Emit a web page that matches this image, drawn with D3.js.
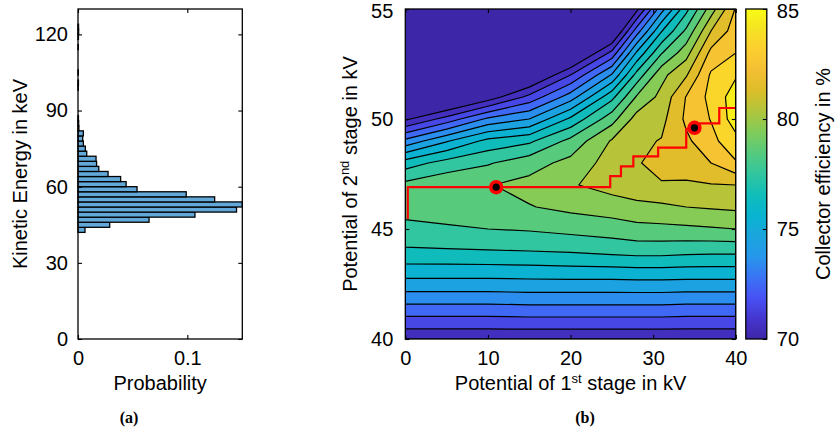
<!DOCTYPE html>
<html>
<head>
<meta charset="utf-8">
<script src="https://cdn.jsdelivr.net/npm/d3@7"></script>
<style>
  body { margin: 0; background: #fff; }
  svg { display: block; }
</style>
</head>
<body>
<svg id="fig" width="838" height="433"></svg>
<script>
// ---------------- (a) kinetic energy distribution ----------------
// lower edges of the 2 keV energy bins (keV) and their probabilities
const energyBins = [42, 44, 46, 48, 50, 52, 54, 56, 58, 60, 62, 64, 66, 68, 70, 72, 74, 76, 78, 80,
                    82, 84, 86, 98, 100, 104, 114, 118, 120, 122];
const probability = [0.0064, 0.029, 0.065, 0.107, 0.145, 0.1503, 0.125, 0.099, 0.054, 0.044,
                     0.039, 0.0275, 0.019, 0.017, 0.0165, 0.008, 0.0067, 0.0049, 0.0043, 0.0049,
                     0.0008, 0.0006, 0.0004, 0.0003, 0.0004, 0.0003, 0.0003, 0.0004, 0.0006, 0.0005];
const binWidth = 2;
const energyMax = 130;
const energyTicks = [0, 30, 60, 90, 120];
const probTicks = [0, 0.1];

// ---------------- (b) collector efficiency map ----------------
const stage1 = [0, 5, 10, 15, 20, 25, 28, 31, 34, 37, 40];            // kV, columns
const stage2 = [40, 41, 42, 43, 44, 45, 46, 47, 48, 49, 50, 51, 52, 53, 54, 55]; // kV, rows
// efficiency in %, one row per stage2 value, one entry per stage1 value
const efficiency = [
  [70.2, 70.2, 70.2, 70.2, 70.2, 70.2, 70.2, 70.2, 70.2, 70.2, 70.2],
  [71.95, 71.95, 71.95, 72.0, 72.0, 72.0, 72.0, 72.0, 71.95, 71.95, 71.95],
  [73.75, 73.75, 73.75, 73.8, 73.8, 73.8, 73.8, 73.8, 73.75, 73.75, 73.75],
  [75.4, 75.4, 75.4, 75.45, 75.5, 75.5, 75.55, 75.55, 75.5, 75.5, 75.5],
  [76.85, 76.9, 76.95, 77.0, 77.1, 77.3, 77.4, 77.4, 77.3, 77.25, 77.25],
  [77.7, 77.85, 78.0, 78.1, 78.3, 78.5, 78.7, 78.75, 78.8, 78.9, 79.0],
  [78.4, 78.55, 78.6, 78.95, 79.25, 79.5, 79.7, 79.8, 80.0, 80.1, 80.2],
  [78.3, 78.75, 78.95, 79.3, 79.9, 80.4, 80.7, 80.95, 80.9, 80.95, 81.0],
  [76.5, 77.4, 77.9, 78.6, 79.3, 80.45, 80.95, 81.2, 81.35, 82.0, 82.9],
  [73.3, 74.9, 76.3, 76.8, 78.3, 80.1, 80.8, 81.05, 81.8, 82.7, 83.7],
  [69.8, 71.4, 73.2, 74.0, 76.2, 78.6, 80.4, 80.7, 82.2, 83.05, 84.5],
  [66.5, 67.8, 69.4, 71.3, 73.5, 76.7, 79.1, 80.3, 82.05, 83.3, 84.5],
  [63.5, 64.6, 66.0, 68.4, 71.0, 74.1, 77.35, 79.7, 80.9, 83.15, 83.9],
  [60.5, 61.6, 63.0, 65.4, 68.0, 71.3, 75.15, 77.93, 79.6, 82.3, 83.0],
  [57.5, 58.6, 60.0, 62.4, 65.0, 68.3, 72.5, 75.93, 78.2, 81.0, 82.5],
  [54.5, 55.6, 57.0, 59.4, 62.0, 65.5, 69.7, 73.6, 76.7, 79.5, 82.1]
];
const levels = [70, 71, 72, 73, 74, 75, 76, 77, 78, 79, 80, 81, 82, 83, 84, 85];
const effRange = [70, 85];

// optimisation path and the two marked operating points
const pathStage1 = [0.3, 0.3, 24.8, 24.8, 26.1, 26.1, 27.6, 27.6, 30.6, 30.6, 34.0, 34.0, 35.6, 35.6, 38.0, 38.0, 40.0];
const pathStage2 = [45.45, 46.9, 46.9, 47.4, 47.4, 47.85, 47.85, 48.3, 48.3, 48.7, 48.7, 49.55, 49.55, 49.8, 49.8, 50.5, 50.5];
const optimaStage1 = [11.0, 35.0];
const optimaStage2 = [46.9, 49.6];

const stage1Ticks = [0, 10, 20, 30, 40];
const stage2Ticks = [40, 45, 50, 55];
const effTicks = [70, 75, 80, 85];

// parula-like colour ramp
const parulaStops = [0, 0.0625, 0.125, 0.1875, 0.25, 0.3125, 0.376, 0.4375, 0.5, 0.5625, 0.627, 0.69, 0.753, 0.815, 0.878, 0.94, 1];
const parulaColors = ["#3e26a8", "#4536cf", "#4852f4", "#3a74f5", "#2697eb", "#1aa5dd", "#08b4d0", "#11bdb9",
                      "#31c69f", "#55ca7e", "#80cc59", "#b0c53d", "#dcbd29", "#f4bf34", "#fccf30", "#f5e322", "#f9fb15"];

// ---------------- drawing ----------------
const FONT = '"Liberation Sans", Arial, Helvetica, sans-serif';
const FS = 20;
const svg = d3.select("#fig");

function tidyAxis(g) {
  g.select(".domain").remove();
  g.selectAll("line").attr("stroke", "#000").attr("stroke-width", 1.1);
  g.selectAll("text").attr("font-family", FONT).attr("font-size", FS).attr("fill", "#000");
}
// keep the label of the top-most tick inside the figure
function lowerTopLabel(top) {
  return g => g.selectAll(".tick").filter(d => d === top).select("text").attr("y", 2.5);
}

// ===== panel (a) =====
const A = { left: 78, right: 242.3, top: 9, bottom: 339 };
const xP = d3.scaleLinear().domain([0, d3.max(probability)]).range([A.left, A.right]);
const yE = d3.scaleLinear().domain([0, energyMax]).range([A.bottom, A.top]);

const gA = svg.append("g");
gA.selectAll("rect.bar")
  .data(energyBins.map((e, i) => ({ e, p: probability[i] })))
  .join("rect")
  .attr("class", "bar")
  .attr("x", xP(0))
  .attr("y", d => yE(d.e + binWidth))
  .attr("width", d => xP(d.p) - xP(0))
  .attr("height", d => yE(d.e) - yE(d.e + binWidth))
  .attr("fill", "#62a8d9")
  .attr("stroke", "#000")
  .attr("stroke-width", 1.3);

gA.append("g").attr("transform", `translate(0,${A.bottom})`)
  .call(d3.axisBottom(xP).tickValues(probTicks).tickSize(-4).tickPadding(12).tickFormat(d3.format("~g")))
  .call(tidyAxis);
gA.append("g").attr("transform", `translate(0,${A.top})`)
  .call(d3.axisTop(xP).tickValues(probTicks).tickSize(-4).tickFormat(""))
  .call(tidyAxis);
gA.append("g").attr("transform", `translate(${A.left},0)`)
  .call(d3.axisLeft(yE).tickValues(energyTicks).tickSize(-4).tickPadding(10))
  .call(tidyAxis);
gA.append("g").attr("transform", `translate(${A.right},0)`)
  .call(d3.axisRight(yE).tickValues(energyTicks).tickSize(-4).tickFormat(""))
  .call(tidyAxis);
gA.append("rect")
  .attr("x", A.left).attr("y", A.top)
  .attr("width", A.right - A.left).attr("height", A.bottom - A.top)
  .attr("fill", "none").attr("stroke", "#000").attr("stroke-width", 1.3);

gA.append("text")
  .attr("x", (A.left + A.right) / 2).attr("y", 390)
  .attr("text-anchor", "middle").attr("font-family", FONT).attr("font-size", FS)
  .text("Probability");
gA.append("text")
  .attr("transform", `translate(26.5,${(A.top + A.bottom) / 2}) rotate(-90)`)
  .attr("text-anchor", "middle").attr("font-family", FONT).attr("font-size", FS)
  .text("Kinetic Energy in keV");
gA.append("text")
  .attr("x", 129).attr("y", 423)
  .attr("text-anchor", "middle").attr("font-family", '"Liberation Serif", "Times New Roman", serif')
  .attr("font-weight", "bold").attr("font-size", 16)
  .text("(a)");

// ===== panel (b) =====
const B = { left: 405.3, right: 735.8, top: 9, bottom: 339 };
const xS = d3.scaleLinear().domain([stage1[0], stage1[stage1.length - 1]]).range([B.left, B.right]);
const yS = d3.scaleLinear().domain([stage2[0], stage2[stage2.length - 1]]).range([B.bottom, B.top]);
const color = d3.scaleLinear()
  .domain(parulaStops.map(t => effRange[0] + t * (effRange[1] - effRange[0])))
  .range(parulaColors)
  .clamp(true);

const nx = stage1.length, ny = stage2.length;
const idxToS1 = d3.scaleLinear().domain(d3.range(nx)).range(stage1);
const idxToS2 = d3.scaleLinear().domain(d3.range(ny)).range(stage2);
const contours = d3.contours().size([nx, ny]).thresholds(levels)(efficiency.flat());

function project(pt) {
  const gx = Math.max(0, Math.min(nx - 1, pt[0] - 0.5));
  const gy = Math.max(0, Math.min(ny - 1, pt[1] - 0.5));
  return [xS(idxToS1(gx)), yS(idxToS2(gy))];
}
function geoPath(geom) {
  let d = "";
  geom.coordinates.forEach(poly => poly.forEach(ring => {
    ring.forEach((pt, i) => {
      const [px, py] = project(pt);
      d += (i ? "L" : "M") + px.toFixed(2) + "," + py.toFixed(2);
    });
    d += "Z";
  }));
  return d;
}

svg.append("clipPath").attr("id", "plotClip")
  .append("rect").attr("x", B.left).attr("y", B.top)
  .attr("width", B.right - B.left).attr("height", B.bottom - B.top);

const gB = svg.append("g");
const gMap = gB.append("g").attr("clip-path", "url(#plotClip)");
gMap.append("rect")
  .attr("x", B.left).attr("y", B.top)
  .attr("width", B.right - B.left).attr("height", B.bottom - B.top)
  .attr("fill", color(effRange[0]));
gMap.selectAll("path.band")
  .data(contours)
  .join("path")
  .attr("class", "band")
  .attr("d", geoPath)
  .attr("fill", c => color(c.value + 0.5))
  .attr("stroke", c => color(c.value + 0.5))
  .attr("stroke-width", 0.4);
gMap.selectAll("path.iso")
  .data(contours)
  .join("path")
  .attr("class", "iso")
  .attr("d", geoPath)
  .attr("fill", "none")
  .attr("stroke", "#000")
  .attr("stroke-width", 1.2)
  .attr("stroke-linejoin", "round");

// optimisation path
gMap.append("path")
  .datum(d3.range(pathStage1.length))
  .attr("d", d3.line().x(i => xS(pathStage1[i])).y(i => yS(pathStage2[i])))
  .attr("fill", "none")
  .attr("stroke", "#ff0000")
  .attr("stroke-width", 2.2);
const opt = gB.selectAll("g.opt")
  .data(d3.range(optimaStage1.length))
  .join("g").attr("class", "opt")
  .attr("transform", i => `translate(${xS(optimaStage1[i])},${yS(optimaStage2[i])})`);
opt.append("circle").attr("r", 7.2).attr("fill", "#ff0000");
opt.append("circle").attr("r", 3.6).attr("fill", "#000");

gB.append("g").attr("transform", `translate(0,${B.bottom})`)
  .call(d3.axisBottom(xS).tickValues(stage1Ticks).tickSize(-4).tickPadding(12))
  .call(tidyAxis);
gB.append("g").attr("transform", `translate(0,${B.top})`)
  .call(d3.axisTop(xS).tickValues(stage1Ticks).tickSize(-4).tickFormat(""))
  .call(tidyAxis);
gB.append("g").attr("transform", `translate(${B.left},0)`)
  .call(d3.axisLeft(yS).tickValues(stage2Ticks).tickSize(-4).tickPadding(12))
  .call(tidyAxis)
  .call(lowerTopLabel(stage2Ticks[stage2Ticks.length - 1]));
gB.append("g").attr("transform", `translate(${B.right},0)`)
  .call(d3.axisRight(yS).tickValues(stage2Ticks).tickSize(-4).tickFormat(""))
  .call(tidyAxis);
gB.append("rect")
  .attr("x", B.left).attr("y", B.top)
  .attr("width", B.right - B.left).attr("height", B.bottom - B.top)
  .attr("fill", "none").attr("stroke", "#000").attr("stroke-width", 1.3);

// axis titles with superscripts
function supLabel(sel, before, sup, after) {
  sel.attr("font-family", FONT).attr("font-size", FS).attr("text-anchor", "middle");
  sel.append("tspan").text(before);
  sel.append("tspan").attr("font-size", 13).attr("dy", -7.5).text(sup);
  sel.append("tspan").attr("dy", 7.5).text(after);
}
gB.append("text")
  .attr("x", (B.left + B.right) / 2).attr("y", 390)
  .call(supLabel, "Potential of 1", "st", " stage in kV");
gB.append("text")
  .attr("transform", `translate(356.5,${(B.top + B.bottom) / 2}) rotate(-90)`)
  .call(supLabel, "Potential of 2", "nd", " stage in kV");
gB.append("text")
  .attr("x", 585).attr("y", 423)
  .attr("text-anchor", "middle").attr("font-family", '"Liberation Serif", "Times New Roman", serif')
  .attr("font-weight", "bold").attr("font-size", 16)
  .text("(b)");

// colour bar
const CB = { left: 745.8, right: 766.8, top: 9, bottom: 339 };
const yC = d3.scaleLinear().domain(effRange).range([CB.bottom, CB.top]);
const grad = svg.append("defs").append("linearGradient")
  .attr("id", "cbGrad").attr("x1", 0).attr("y1", 1).attr("x2", 0).attr("y2", 0);
grad.selectAll("stop")
  .data(parulaStops)
  .join("stop")
  .attr("offset", t => t)
  .attr("stop-color", (t, i) => parulaColors[i]);
gB.append("rect")
  .attr("x", CB.left).attr("y", CB.top)
  .attr("width", CB.right - CB.left).attr("height", CB.bottom - CB.top)
  .attr("fill", "url(#cbGrad)");
gB.append("g").attr("transform", `translate(${CB.right},0)`)
  .call(d3.axisRight(yC).tickValues(effTicks).tickSize(-4).tickPadding(10))
  .call(tidyAxis)
  .call(lowerTopLabel(effTicks[effTicks.length - 1]));
gB.append("rect")
  .attr("x", CB.left).attr("y", CB.top)
  .attr("width", CB.right - CB.left).attr("height", CB.bottom - CB.top)
  .attr("fill", "none").attr("stroke", "#000").attr("stroke-width", 1.3);
gB.append("text")
  .attr("transform", `translate(830,${(CB.top + CB.bottom) / 2}) rotate(-90)`)
  .attr("text-anchor", "middle").attr("font-family", FONT).attr("font-size", FS)
  .text("Collector efficiency in %");
</script>
</body>
</html>
